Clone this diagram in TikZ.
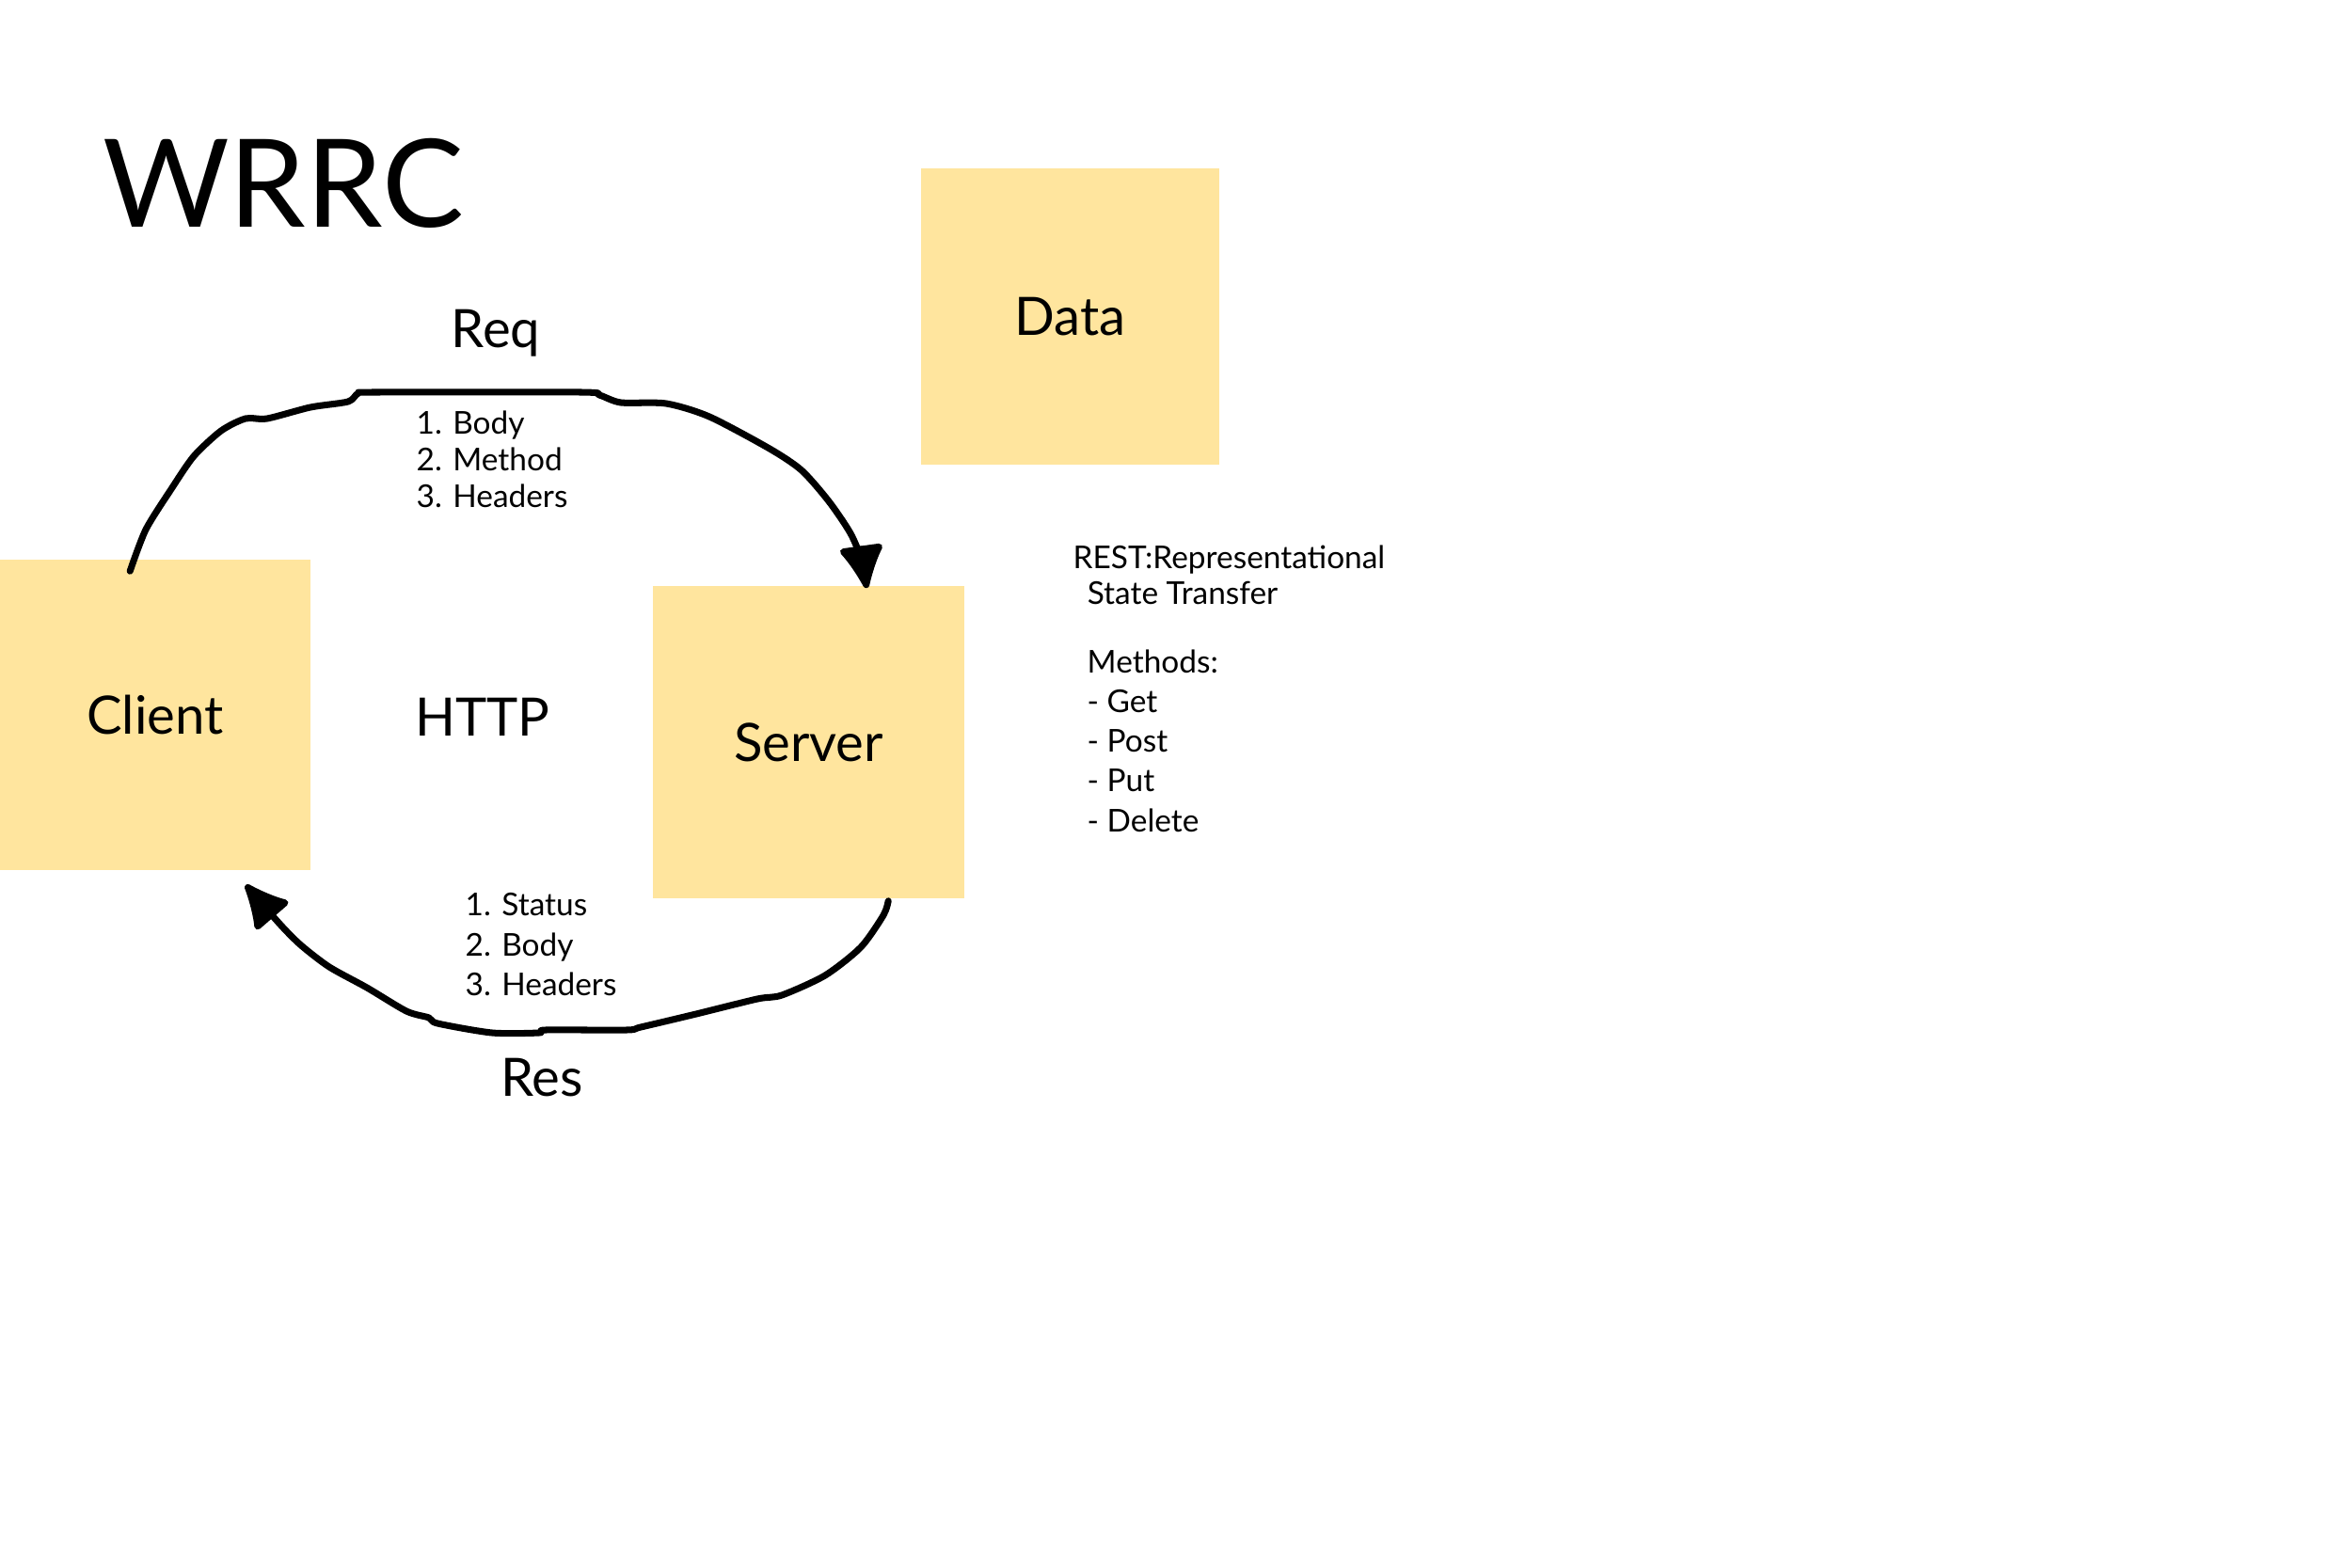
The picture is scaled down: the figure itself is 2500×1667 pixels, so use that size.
\documentclass[tikz,border=0pt]{standalone}
\usepackage{fontspec}
\setmainfont{Lato}
\usetikzlibrary{arrows.meta,calc}
\definecolor{note}{RGB}{255,229,158}
\begin{document}
\begin{tikzpicture}[x=0.01cm,y=-0.01cm,
  box/.style={fill=note, draw=none, inner sep=0pt, font=\fontsize{16}{19}\selectfont},
  big/.style={font=\fontsize{16}{19}\selectfont, inner sep=0pt, anchor=base},
  small/.style={inner sep=0pt, align=left, anchor=north west},
  wire/.style={line width=2pt, line cap=round, line join=round,
    -{Latex[length=15pt,width=15pt,round]}}]
\path[fill=white] (0,0) rectangle (2500,1667);
\useasboundingbox (0,0) rectangle (2500,1667);

% boxes
\node[box, minimum width=3.30cm, minimum height=3.30cm] (client) at (165,760) {Client};
\node[box, minimum width=3.31cm, minimum height=3.32cm] (server) at (859.5,789) {Server};
\node[box, minimum width=3.17cm, minimum height=3.15cm] (data) at (1137.5,336.5) {Data};

% labels
\node[inner sep=0pt, anchor=base, font=\fontsize{37}{42}\selectfont] (title) at (301,242) {WRRC};
\node[big] (req) at (527,370) {Req};
\node[big] (http) at (513,782) {HTTP};
\node[big] (res) at (576,1165) {Res};

\node[small, font=\fontsize{9.5}{11.1}\selectfont] (reqlist) at (442,436)
  {1. Body\\2. Method\\3. Headers};
\node[small, font=\fontsize{9.5}{12}\selectfont] (reslist) at (494,949)
  {1. Status\\2. Body\\3. Headers};
\node[small, font=\fontsize{9.5}{10.8}\selectfont] (rest) at (1140,579)
  {REST:Representational\\\hspace*{4.3pt}State Transfer};
\node[small, font=\fontsize{9.5}{12}\selectfont] (methods) at (1155,690)
  {Methods:\\- Get\\- Post\\- Put\\- Delete};

% connectors
\coordinate (reqA) at ($(client.north west)+(139,13)$);
\coordinate (reqB) at ($(server.north west)+(228,3)$);
\coordinate (resA) at ($(server.south west)+(251,2)$);
\coordinate (resB) at ($(client.south west)+(262,15)$);

\draw[wire] plot[smooth, tension=0.45] coordinates {(reqA) (155,563) (182,520) (206,485) (235,458)
  (261,445) (284,445) (330,433) (370,427) (381,418) (400,417) (617,417) (637,420) (660,428)
  (708,429) (754,443) (818,477) (852,500) (881,533) (904,567) (916,596) (reqB)};

\draw[wire] plot[smooth, tension=0.45] coordinates {(resA) (939,973) (915,1007) (877,1037)
  (831,1058) (805,1062) (740,1078) (681,1092) (666,1095) (580,1095) (573,1098) (523,1098)
  (465,1088) (456,1082) (432,1075) (390,1050) (350,1028) (320,1005) (298,983) (resB)};
\end{tikzpicture}
\end{document}
